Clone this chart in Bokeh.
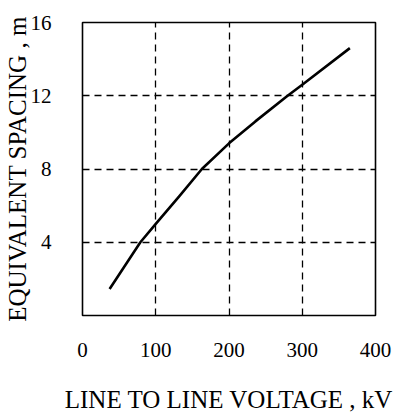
from bokeh.plotting import figure
from bokeh.models import FixedTicker, Range1d
from bokeh.embed import file_html
from bokeh.resources import INLINE

# Data
voltage_kv = [37, 79, 100, 132, 163, 200, 236, 280, 300, 365]
spacing_m = [1.45, 4.0, 5.0, 6.5, 8.0, 9.4, 10.6, 12.0, 12.6, 14.6]
x_ticks = [0, 100, 200, 300, 400]
y_ticks = [4, 8, 12, 16]
x_grid = [100, 200, 300]
y_grid = [4, 8, 12]
x_title = "LINE TO LINE VOLTAGE , kV"
y_title = "EQUIVALENT SPACING , m"

FONT = "Liberation Serif"

p = figure(width=419, height=419, output_backend="svg", toolbar_location=None,
           x_range=Range1d(0, 400), y_range=Range1d(0, 16),
           min_border_left=82, min_border_right=44, min_border_top=22, min_border_bottom=104)

p.outline_line_color = "black"
p.outline_line_width = 1.6
p.background_fill_color = "white"
p.border_fill_color = "white"

p.line(voltage_kv, spacing_m, line_color="black", line_width=2.6, line_join="round")

for ax, ticks in ((p.xaxis[0], x_ticks), (p.yaxis[0], y_ticks)):
    ax.ticker = FixedTicker(ticks=ticks)
    ax.axis_line_color = None
    ax.major_tick_line_color = None
    ax.minor_tick_line_color = None
    ax.major_label_text_font = FONT
    ax.major_label_text_font_size = "21px"
    ax.major_label_text_color = "black"
    ax.axis_label_text_font = FONT
    ax.axis_label_text_font_style = "normal"
    ax.axis_label_text_font_size = "25px"
    ax.axis_label_text_color = "black"

p.xaxis.axis_label = x_title
p.yaxis.axis_label = y_title
p.xaxis.major_label_standoff = 21
p.xaxis.axis_label_standoff = 26
p.yaxis.major_label_standoff = 25
p.yaxis.axis_label_standoff = -3

p.xgrid.ticker = FixedTicker(ticks=x_grid)
p.ygrid.ticker = FixedTicker(ticks=y_grid)
for g in (p.xgrid[0], p.ygrid[0]):
    g.grid_line_color = "black"
    g.grid_line_width = 1.3
    g.grid_line_dash = "7 5"

open("out.html", "w").write(file_html(p, INLINE))
